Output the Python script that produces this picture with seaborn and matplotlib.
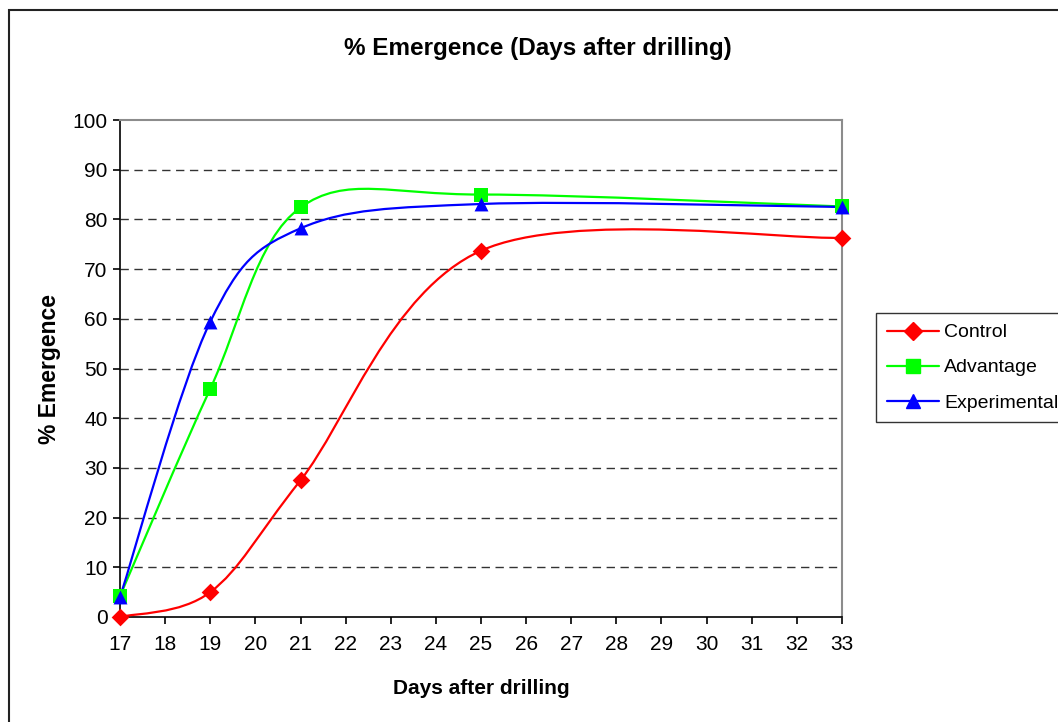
import numpy as np
import pandas as pd
import matplotlib
matplotlib.use("Agg")
import matplotlib.pyplot as plt
import seaborn as sns
from matplotlib.path import Path
from matplotlib.patches import PathPatch, Rectangle
from matplotlib.lines import Line2D

days = [17, 19, 21, 25, 33]
control = [0, 5, 27.5, 73.7, 76.3]
advantage = [4.2, 45.9, 82.4, 85.0, 82.6]
experimental = [4.0, 59.4, 78.2, 83.1, 82.5]
series_names = ["Control", "Advantage", "Experimental"]
x_ticks = list(range(17, 34))
y_ticks = list(range(0, 101, 10))

colors = {"Control": "#FF0000", "Advantage": "#00FF00", "Experimental": "#0000FF"}
markers = {"Control": "D", "Advantage": "s", "Experimental": "^"}
msizes = {"Control": 9, "Advantage": 10, "Experimental": 10}

df = pd.DataFrame({"day": days * 3,
                   "value": control + advantage + experimental,
                   "series": [s for s in series_names for _ in days]})

sns.set_theme(style="white")
plt.rcParams['font.family'] = ['Liberation Sans', 'DejaVu Sans']
plt.rcParams['text.color'] = 'black'
plt.rcParams['axes.labelcolor'] = 'black'
plt.rcParams['xtick.color'] = 'black'
plt.rcParams['ytick.color'] = 'black'

fig = plt.figure(figsize=(10.58, 7.22), dpi=100)
ax = fig.add_axes([120/1058, 1-617/722, (842-120)/1058, (617-120)/722])


def smooth_path(xs, ys):
    pts = np.column_stack([xs, ys]).astype(float)
    n = len(pts)
    verts = [pts[0]]
    codes = [Path.MOVETO]
    for i in range(n - 1):
        p0 = pts[i - 1] if i > 0 else pts[i]
        p1 = pts[i]
        p2 = pts[i + 1]
        p3 = pts[i + 2] if i + 2 < n else pts[i + 1]
        c1 = p1 + (p2 - p0) / 6.0
        c2 = p2 - (p3 - p1) / 6.0
        verts += [c1, c2, p2]
        codes += [Path.CURVE4] * 3
    return Path(verts, codes)


for name in series_names:
    sub = df[df.series == name]
    patch = PathPatch(smooth_path(sub.day.values, sub.value.values), facecolor='none',
                      edgecolor=colors[name], lw=1.6, zorder=3, clip_on=False)
    ax.add_patch(patch)

for name in series_names:
    sub = df[df.series == name]
    sns.scatterplot(data=sub, x="day", y="value", marker=markers[name], color=colors[name],
                    s=msizes[name] ** 2, edgecolor=colors[name], linewidth=0, ax=ax,
                    zorder=4, clip_on=False, legend=False)

ax.set_xlim(17, 33)
ax.set_ylim(0, 100)
ax.set_xticks(x_ticks)
ax.set_yticks(y_ticks)
ax.set_xticklabels([str(t) for t in x_ticks])
ax.set_yticklabels([str(t) for t in y_ticks])

for y in y_ticks[1:-1]:
    ax.axhline(y, color='#333333', lw=1.0, ls=(0, (6, 4)), zorder=1)

for side in ['top', 'right']:
    ax.spines[side].set_color('#8c8c8c')
    ax.spines[side].set_linewidth(1.5)
for side in ['left', 'bottom']:
    ax.spines[side].set_color('black')
    ax.spines[side].set_linewidth(1.2)
    ax.spines[side].set_visible(True)

ax.tick_params(axis='both', which='major', direction='out', length=5, width=1.2,
               color='black', labelsize=15, labelcolor='black')
ax.tick_params(axis='x', pad=8, bottom=True)
ax.tick_params(axis='y', pad=4, left=True)

ax.set_xlabel("Days after drilling", fontsize=15, fontweight='bold', labelpad=18,
              color='black')
ax.set_ylabel("% Emergence", fontsize=16.5, fontweight='bold', labelpad=8,
              color='black')
fig.text(538/1058, 1-48/722, "% Emergence (Days after drilling)", fontsize=17.5,
         fontweight='bold', ha='center', va='center', color='black')

handles = [Line2D([0], [0], color=colors[n], lw=1.6, marker=markers[n],
                  markersize=msizes[n], markerfacecolor=colors[n],
                  markeredgecolor=colors[n]) for n in series_names]
leg = fig.legend(handles, series_names, loc='upper left',
                 bbox_to_anchor=(876/1058, 1-313/722), fontsize=14, frameon=True,
                 fancybox=False, edgecolor='black', handlelength=2.7,
                 handletextpad=0.25, labelspacing=0.9, borderpad=0.55,
                 borderaxespad=0)
leg.get_frame().set_linewidth(1.0)
for t in leg.get_texts():
    t.set_color('black')

fig.patches.append(Rectangle((9/1058, -0.1), 1.2, 1-10/722+0.1, transform=fig.transFigure,
                             fill=False, edgecolor='#222222', lw=1.5, zorder=0))

fig.savefig("out.png", dpi=100, facecolor='white')
